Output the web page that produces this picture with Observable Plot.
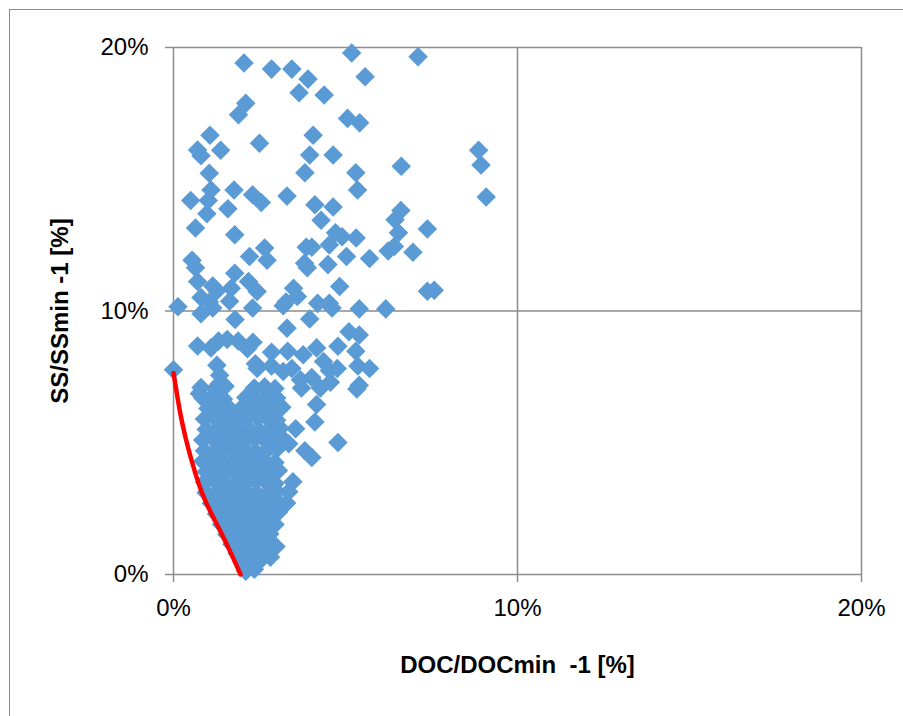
<!DOCTYPE html>
<html><head><meta charset="utf-8">
<script src="https://cdn.jsdelivr.net/npm/d3@7"></script>
<script src="https://cdn.jsdelivr.net/npm/@observablehq/plot@0.6"></script>
<style>
html,body{margin:0;padding:0;background:#fff;overflow:hidden;}
#wrap{position:relative;width:903px;height:716px;overflow:hidden;background:#fff;}
#wrap svg{position:absolute;left:0;top:0;}
#frame{position:absolute;left:9px;top:9px;width:960px;height:760px;border:1.5px solid #8c8c8c;box-sizing:border-box;pointer-events:none;}
svg text{white-space:pre;}
svg g[aria-label$="axis label"] text{font-weight:bold;}
</style></head><body><div id="wrap"></div>
<script>
// DOC/DOCmin -1 [%] (x) and SS/SSmin -1 [%] (y) for each sample
const docDev = [
 2.05,2.85,3.44,3.91,3.65,4.38,5.18,5.57,7.11,2.10,1.89,5.06,5.41,1.06,4.06,0.70,0.80,1.37,2.50,3.96,
 4.64,8.87,8.94,6.62,1.04,3.82,5.30,5.35,1.09,1.76,0.50,1.01,2.30,2.55,3.30,4.11,4.64,9.09,0.97,1.58,
 4.29,6.61,6.44,0.64,1.78,7.38,4.71,4.90,5.31,6.54,3.86,4.02,4.53,2.65,2.72,2.21,5.03,5.70,6.24,6.42,
 6.96,0.54,0.64,3.81,3.89,4.49,1.78,2.18,0.70,1.14,1.26,1.68,2.43,3.49,3.60,4.83,7.38,7.58,0.13,0.80,
 1.04,0.80,1.63,2.30,1.14,3.19,3.27,4.19,4.53,4.61,5.40,6.17,1.79,3.30,3.96,5.10,5.40,0.70,1.09,1.31,
 1.56,1.88,2.15,2.31,2.85,3.32,3.77,4.16,4.78,5.30,0.00,1.26,1.34,2.38,2.43,2.85,3.19,3.44,4.36,4.53,
 4.76,5.36,5.70,3.69,4.02,3.72,4.27,4.56,5.33,5.40,0.75,1.34,4.16,4.11,3.55,4.78,4.02,3.82,3.35,3.47,
 3.35,3.29,2.98,2.82,
 2.10,2.35,
 2.00,2.25,2.50,
 1.85,2.10,2.35,2.60,
 1.70,1.95,2.20,2.45,2.70,
 1.55,1.80,2.05,2.30,2.55,2.80,
 1.40,1.65,1.95,2.20,2.50,2.75,2.95,
 1.25,1.50,1.80,2.10,2.40,2.65,2.90,3.05,
 1.10,1.40,1.70,2.00,2.30,2.60,2.85,3.10,
 0.95,1.25,1.55,1.85,2.15,2.45,2.75,3.00,
 0.90,1.20,1.50,1.80,2.10,2.40,2.70,2.95,
 0.95,1.25,1.55,1.85,2.15,2.45,2.75,3.05,
 0.85,1.15,1.45,1.75,2.05,2.35,2.65,2.95,
 0.90,1.20,1.50,1.80,2.10,2.40,2.70,3.00,
 0.85,1.15,1.45,1.75,2.05,2.35,2.65,2.95,3.20,
 0.95,1.25,1.55,1.85,2.20,2.50,2.80,3.10,
 0.90,1.20,1.50,1.80,2.10,2.45,2.75,3.00,
 1.00,1.30,1.60,1.95,2.25,2.55,2.90,3.15,
 0.85,1.15,1.45,2.10,2.40,2.70,3.00,
 0.80,1.20,1.50,2.35,2.65,2.95
];
const ssDev = [
 19.41,19.18,19.18,18.80,18.28,18.20,19.79,18.89,19.65,17.88,17.45,17.31,17.14,16.67,16.67,16.11,15.89,16.10,16.37,15.92,
 15.92,16.10,15.54,15.49,15.23,15.25,15.25,14.59,14.59,14.59,14.19,14.19,14.41,14.12,14.36,14.03,13.95,14.33,13.69,13.88,
 13.44,13.81,13.46,13.15,12.89,13.11,12.97,12.82,12.77,12.97,12.42,12.42,12.51,12.39,11.93,12.07,12.07,11.99,12.28,12.45,
 12.23,11.93,11.64,11.81,11.64,11.76,11.43,11.12,11.12,10.95,10.77,10.86,10.74,10.86,10.55,10.93,10.75,10.79,10.16,10.51,
 10.34,9.90,10.37,10.11,10.11,10.20,10.34,10.29,10.29,10.11,10.08,10.08,9.68,9.35,9.70,9.21,9.09,8.67,8.60,8.86,
 8.92,8.86,8.57,8.81,8.43,8.47,8.34,8.60,8.66,8.47,7.77,7.94,7.56,8.00,7.82,7.91,7.70,7.82,8.08,7.74,
 7.82,7.91,7.82,7.39,7.48,7.08,7.08,7.30,7.04,7.18,6.87,7.25,6.45,5.79,5.53,5.01,4.44,4.70,4.96,3.52,
 3.14,2.71,1.06,0.66,
 0.12,0.20,
 0.48,0.42,0.50,
 0.80,0.76,0.84,0.79,
 1.15,1.20,1.12,1.18,1.22,
 1.52,1.48,1.55,1.50,1.46,1.54,
 1.90,1.94,1.88,1.92,1.86,1.95,1.90,
 2.30,2.26,2.34,2.28,2.32,2.25,2.30,2.36,
 2.70,2.74,2.68,2.72,2.66,2.75,2.70,2.68,
 3.10,3.06,3.14,3.08,3.12,3.05,3.10,3.15,
 3.50,3.54,3.46,3.52,3.48,3.55,3.50,3.45,
 3.90,3.86,3.94,3.88,3.92,3.85,3.90,3.95,
 4.30,4.34,4.26,4.32,4.28,4.35,4.30,4.25,
 4.70,4.66,4.74,4.68,4.72,4.65,4.70,4.75,
 5.10,5.14,5.06,5.12,5.08,5.15,5.10,5.05,5.12,
 5.50,5.46,5.54,5.48,5.52,5.45,5.50,5.55,
 5.90,5.94,5.86,5.92,5.88,5.95,5.90,5.85,
 6.30,6.26,6.34,6.28,6.32,6.25,6.30,6.35,
 6.70,6.74,6.66,6.72,6.68,6.75,6.70,
 7.10,7.05,7.14,7.08,7.12,7.06
];
// red reference curve
const curveDoc = [0, 0.1, 0.2, 0.35, 0.5, 0.8, 1.05, 1.3, 1.6, 1.95];
const curveSs = [7.65, 6.85, 6.1, 5.2, 4.45, 3.2, 2.45, 1.8, 1.0, 0];
const tickValues = [0, 10, 20];
const gridValues = [10, 20];

const points = docDev.map((x, i) => ({x, y: ssDev[i]}));
const curve = curveDoc.map((x, i) => ({x, y: curveSs[i]}));
const grey = "#8c8c8c";

const chart = Plot.plot({
  width: 903, height: 716,
  marginLeft: 173, marginRight: 42, marginTop: 47, marginBottom: 142,
  style: {fontFamily: "'Liberation Sans', Arial, sans-serif", fontSize: "24px", color: "#000", background: "transparent", overflow: "visible"},
  x: {domain: [0, 20]},
  y: {domain: [0, 20]},
  marks: [
    Plot.gridX(gridValues, {stroke: grey, strokeOpacity: 1, strokeWidth: 1.5}),
    Plot.gridY(gridValues, {stroke: grey, strokeOpacity: 1, strokeWidth: 1.5}),
    Plot.ruleX([0], {stroke: grey, strokeWidth: 1.5}),
    Plot.ruleY([0], {stroke: grey, strokeWidth: 1.5}),
    Plot.axisX(tickValues, {tickFormat: d => d + "%", tickSize: 8, tickPadding: 16, stroke: grey, strokeWidth: 1.5,
      label: "DOC/DOCmin  -1 [%]", labelAnchor: "center", labelOffset: 98, labelArrow: "none"}),
    Plot.axisY(tickValues, {tickFormat: d => d + "%", tickSize: 8, tickPadding: 17, stroke: grey, strokeWidth: 1.5,
      label: "SS/SSmin -1 [%]", labelAnchor: "center", labelOffset: 123, labelArrow: "none"}),
    Plot.dot(points, {x: "x", y: "y", symbol: "diamond2", r: 8.8, fill: "#5B9BD5", stroke: "none"}),
    Plot.line(curve, {x: "x", y: "y", stroke: "#ff0000", strokeWidth: 4.5, curve: "monotone-x"})
  ]
});
const wrap = document.getElementById("wrap");
wrap.appendChild(chart);
const frame = document.createElement("div");
frame.id = "frame";
wrap.appendChild(frame);
</script>
</body></html>
